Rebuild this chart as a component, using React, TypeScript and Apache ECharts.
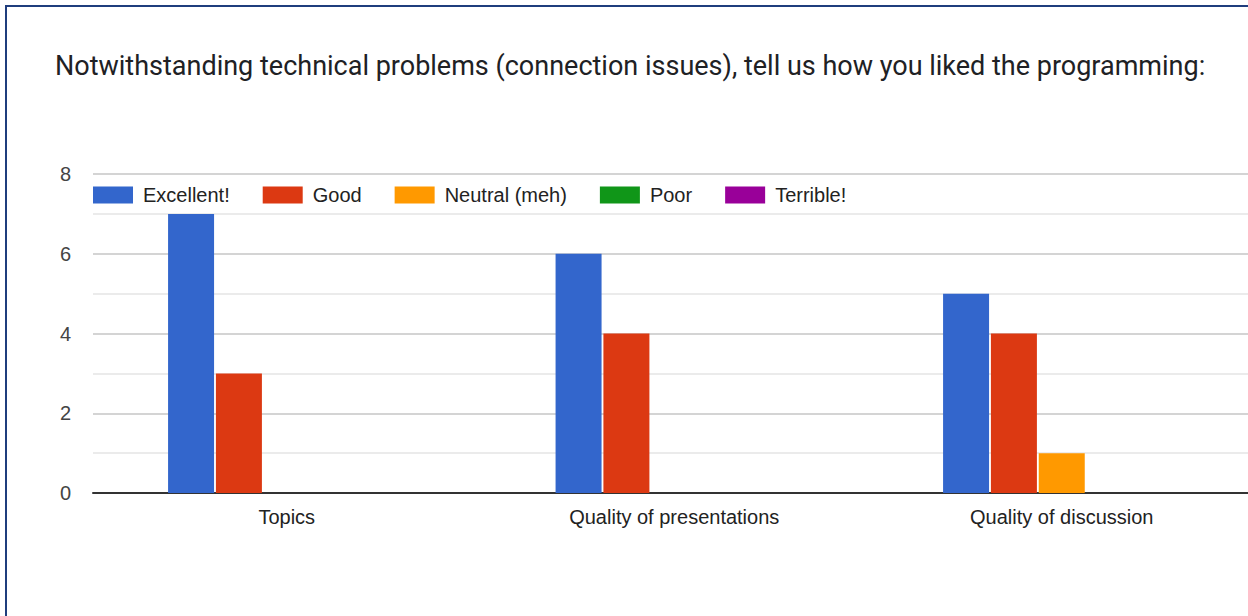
import React, { useEffect, useRef } from "react";
import * as echarts from "echarts";

const TITLE = "Notwithstanding technical problems (connection issues), tell us how you liked the programming:";
const categories = ["Topics", "Quality of presentations", "Quality of discussion"];
const seriesNames = ["Excellent!", "Good", "Neutral (meh)", "Poor", "Terrible!"];
const excellent = [7, 6, 5];
const good = [3, 4, 4];
const neutral = [0, 0, 1];
const poor = [0, 0, 0];
const terrible = [0, 0, 0];
const seriesValues = [excellent, good, neutral, poor, terrible];
const colors = ["#3366cc", "#dc3912", "#ff9900", "#109618", "#990099"];

export default function App() {
  const ref = useRef<HTMLDivElement>(null);
  useEffect(() => {
    if (!ref.current) return;
    const chart = echarts.init(ref.current, undefined, { renderer: "svg" });
    chart.setOption({
      animation: false,
      backgroundColor: "transparent",
      title: {
        text: TITLE,
        left: 50,
        top: 47,
        textStyle: { fontFamily: "Roboto", fontSize: 27, fontWeight: "normal", color: "#202124" },
      },
      legend: {
        data: seriesNames,
        left: 88,
        top: 180,
        icon: "rect",
        itemWidth: 40,
        itemHeight: 17,
        itemGap: 33,
        textStyle: { fontFamily: "Liberation Sans, Arial", fontSize: 20, color: "#222", padding: [0, 0, 0, 5] },
      },
      grid: { left: 93, right: 14.5, top: 174, bottom: 123, containLabel: false },
      xAxis: {
        type: "category",
        data: categories,
        axisLine: { show: true, lineStyle: { color: "#333", width: 2 } },
        axisTick: { show: false },
        axisLabel: { fontFamily: "Liberation Sans, Arial", fontSize: 20, color: "#222", margin: 14 },
        splitLine: { show: false },
      },
      yAxis: {
        type: "value",
        min: 0,
        max: 8,
        interval: 2,
        axisLine: { show: false },
        axisTick: { show: false },
        axisLabel: { fontFamily: "Liberation Sans, Arial", fontSize: 20, color: "#444", margin: 22 },
        splitLine: { show: true, lineStyle: { color: "#d4d4d4", width: 2 } },
        minorTick: { show: false, splitNumber: 2 },
        minorSplitLine: { show: true, lineStyle: { color: "#ebebeb", width: 2 } },
      },
      series: seriesNames.map((name, i) => ({
        name,
        type: "bar",
        data: seriesValues[i],
        barWidth: 46,
        barGap: "4%",
        itemStyle: { color: colors[i] },
      })),
    });
    return () => chart.dispose();
  }, []);
  return (
    <div style={{ position: "absolute", left: 0, top: 0, width: 1248, height: 616, overflow: "hidden", background: "#fff" }}>
      <div
        style={{
          position: "absolute",
          left: 5,
          top: 5,
          width: 1400,
          height: 800,
          border: "2px solid #1f3d7d",
          boxSizing: "border-box",
        }}
      />
      <div ref={ref} style={{ position: "absolute", left: 0, top: 0, width: 1270, height: 616 }} />
    </div>
  );
}
